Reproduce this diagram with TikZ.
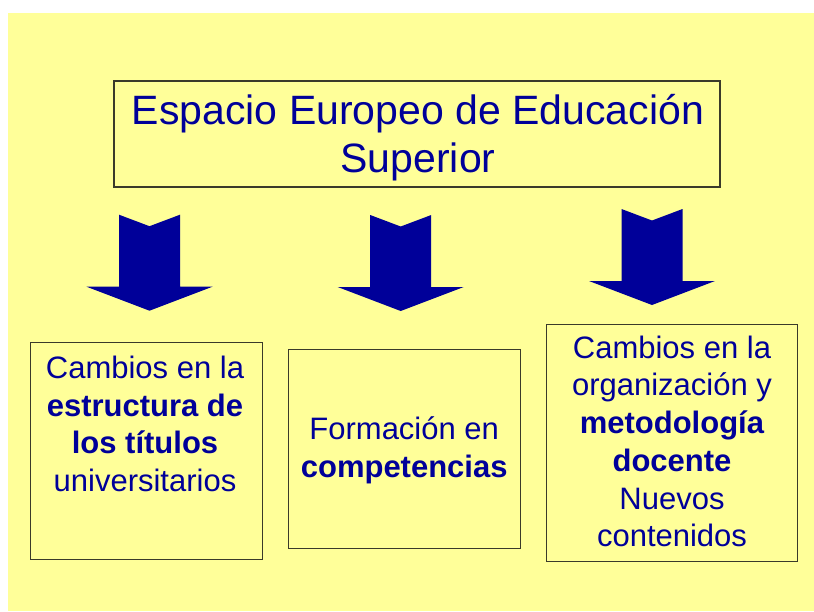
\documentclass[tikz,border=0pt]{standalone}
\usepackage{fontspec}
\setmainfont{Liberation Sans}
\definecolor{bgyellow}{HTML}{FFFF99}
\definecolor{navy}{HTML}{000099}
\definecolor{framecol}{HTML}{3A3A2A}
\begin{document}
\begin{tikzpicture}[x=1pt,y=-1pt,
  box/.style={draw=framecol, line width=1.1pt, fill=bgyellow, inner sep=0pt},
  txt/.style={text=navy, align=center, inner sep=0pt, font=\fontsize{31}{37.7}\selectfont},
  titletxt/.style={text=navy, align=center, inner sep=0pt, font=\fontsize{41}{48}\selectfont},
  bigarrow/.pic={\fill[navy] (-30.5,0) -- (0,11.5) -- (30.5,0) -- (30.5,72) -- (63,72) -- (0,96) -- (-63,72) -- (-30.5,72) -- cycle;}]
\useasboundingbox (0,0) rectangle (814,611);
\fill[white] (0,0) rectangle (814,611);
\fill[bgyellow] (8,13) rectangle (814,611);
% title box (text anchored at the baseline of its last line)
\node[box, minimum width=606pt, minimum height=106pt] (top) at (417,134) {};
\node[titletxt, anchor=base] (toptxt) at (418,172.3) {Espacio Europeo de Educación\\Superior};
% arrows
\pic (a1) at (149.5,214.7) {bigarrow};
\pic (a2) at (400.7,215) {bigarrow};
\pic (a3) at (652,209) {bigarrow};
% lower boxes
\node[box, minimum width=232pt, minimum height=217pt] (b1) at (146.3,451.3) {};
\node[txt, anchor=base] (t1) at (145,491.4) {Cambios en la\\\textbf{estructura de}\\\textbf{los títulos}\\universitarios};
\node[box, minimum width=231.7pt, minimum height=199pt] (b2) at (404.2,448.8) {};
\node[txt, anchor=base] (t2) at (404.2,477.3) {Formación en\\\textbf{competencias}};
\node[box, minimum width=251.7pt, minimum height=236.7pt] (b3) at (671.9,442.7) {};
\node[txt, anchor=base] (t3) at (672,546.7) {Cambios en la\\organización y\\\textbf{metodología}\\\textbf{docente}\\Nuevos\\contenidos};
\end{tikzpicture}
\end{document}
